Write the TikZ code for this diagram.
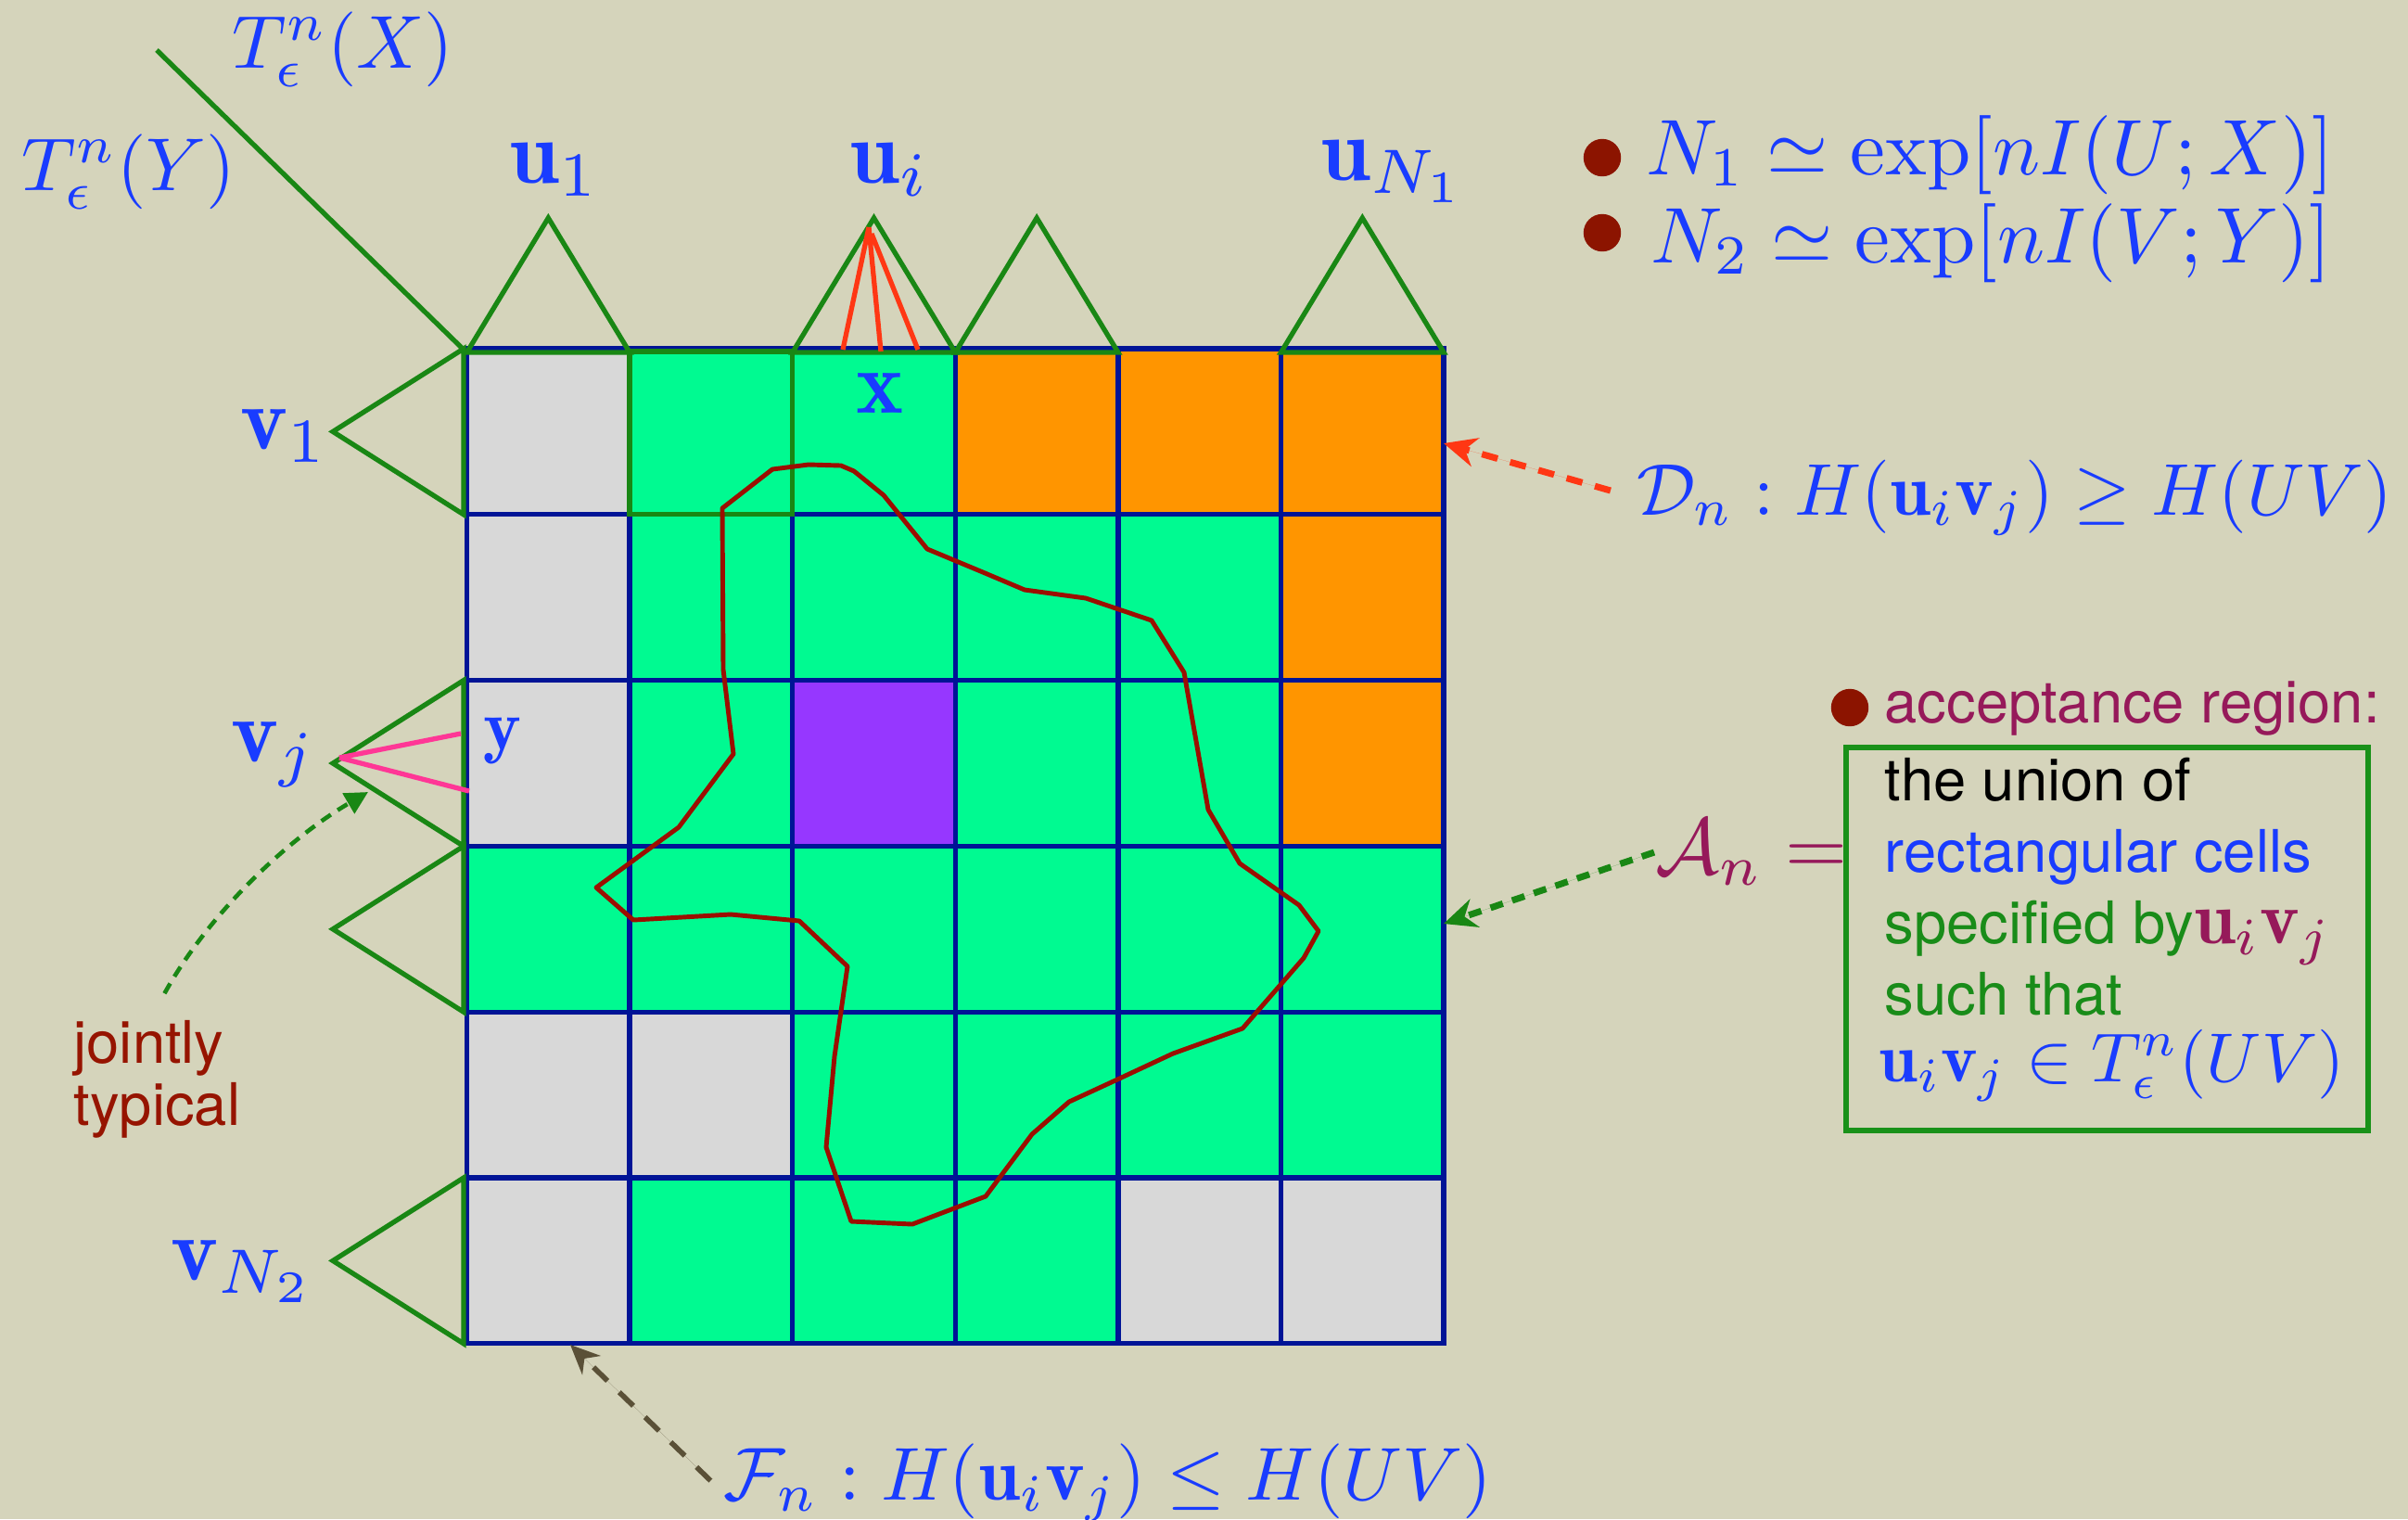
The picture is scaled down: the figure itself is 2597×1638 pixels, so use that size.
\documentclass[tikz,border=0pt]{standalone}
\usepackage{amsmath,amssymb}
\usepackage{graphicx}
\usepackage{fontspec}
\newfontfamily\hel{TeX Gyre Heros}
\usetikzlibrary{arrows.meta}
\definecolor{bg}{RGB}{213,212,187}
\definecolor{cgreen}{RGB}{0,250,145}
\definecolor{cgrey}{RGB}{216,216,216}
\definecolor{corange}{RGB}{255,149,0}
\definecolor{cpurple}{RGB}{150,55,255}
\definecolor{gridblue}{RGB}{0,20,150}
\definecolor{trigreen}{RGB}{25,135,20}
\definecolor{lblue}{RGB}{25,60,255}
\definecolor{curvered}{RGB}{155,15,0}
\definecolor{bulred}{RGB}{140,20,0}
\definecolor{maroon}{RGB}{150,25,90}
\definecolor{boxgreen}{RGB}{25,145,25}
\definecolor{tgreen}{RGB}{25,140,25}
\definecolor{xred}{RGB}{255,55,20}
\definecolor{pinkl}{RGB}{255,55,150}
\definecolor{folive}{RGB}{90,80,55}
\definecolor{jred}{RGB}{150,20,0}
\newcommand{\fsB}{\fontsize{18}{22}\selectfont}
\begin{document}
\begin{tikzpicture}[x=0.01cm,y=-0.01cm,
  lab/.style={inner sep=0pt,anchor=base west,text=lblue},
  gridline/.style={draw=gridblue,line width=1.5pt},
  tri/.style={draw=trigreen,line width=1.5pt,line join=miter},
  bul/.style={circle,fill=bulred,inner sep=0pt,minimum size=11.5pt},
  darrow/.style={line width=2pt,dash pattern=on 5pt off 4pt,-{Stealth[length=10pt,width=9pt]}}]
\useasboundingbox (0,0) rectangle (2597,1638);
\fill[bg] (0,0) rectangle (2597,1638);
\def\gx{503.5}\def\gy{376}\def\cw{175.6}\def\ch{178.8}
% cells
\fill[cgreen] (\gx,\gy) rectangle ++({6*\cw},{6*\ch});
\foreach \c/\r/\k in {1/1/cgrey,4/1/corange,5/1/corange,6/1/corange,
  1/2/cgrey,6/2/corange,1/3/cgrey,3/3/cpurple,6/3/corange,
  1/5/cgrey,2/5/cgrey,1/6/cgrey,5/6/cgrey,6/6/cgrey}
  \fill[\k] ({\gx+(\c-1)*\cw},{\gy+(\r-1)*\ch}) rectangle ++(\cw,\ch);
\foreach \i in {0,...,6} {
  \draw[gridline] ({\gx+\i*\cw},\gy) -- ++(0,{6*\ch});
  \draw[gridline] (\gx,{\gy+\i*\ch}) -- ++({6*\cw},0);
}
\draw[gridline,line join=miter] (\gx,\gy) rectangle ++({6*\cw},{6*\ch});
% green cell outline
\draw[tri] ({\gx+\cw},{\gy+3}) rectangle ++(\cw,{\ch-3});
% triangles
\foreach \c in {1,3,4,6}
  \draw[tri] ({\gx+(\c-1)*\cw},380) -- ({\gx+(\c-0.5)*\cw},235) -- ({\gx+\c*\cw},380) -- cycle;
\foreach \r in {1,3,4,6}
  \draw[tri] (500,{\gy+(\r-1)*\ch}) -- (359,{\gy+(\r-0.5)*\ch}) -- (500,{\gy+\r*\ch}) -- cycle;
\draw[tri] (169,54) -- (500,377);
% red and pink rays
\draw[xred,line width=1.5pt] (937,245) -- (909,377) (937,245) -- (950,379) (940,252) -- (990,377);
\draw[pinkl,line width=1.5pt] (366,817) -- (497,791) (366,817) -- (506,853);
% closed curve
\draw[curvered,line width=1.4pt,line join=round]
 (779,548) -- (833,506) -- (872,501) -- (907,502) -- (921,508) -- (953,534) -- (1000,592)
 -- (1060,617) -- (1105,636) -- (1171,645) -- (1242,669) -- (1277,725) -- (1303,873)
 -- (1337,931) -- (1401,976) -- (1422,1004) -- (1406,1033) -- (1340,1109) -- (1265,1136)
 -- (1205,1164) -- (1153,1188) -- (1113,1223) -- (1063,1290) -- (984,1320) -- (918,1317)
 -- (891,1237) -- (900,1139) -- (914,1042) -- (862,993) -- (788,986) -- (683,992)
 -- (643,957) -- (732,892) -- (791,813) -- (780,722) -- cycle;
% labels
\node[lab,scale=2.3] (TX) at (249,73) {$T_\epsilon^n(X)$};
\node[lab,scale=2.3] (TY) at (22,205) {$T_\epsilon^n(Y)$};
\node[lab,scale=2.75] (u1) at (548,197) {$\mathbf{u}_1$};
\node[lab,scale=2.75] (ui) at (915,197) {$\mathbf{u}_i$};
\node[lab,scale=2.75] (uN) at (1423,194) {$\mathbf{u}_{N_1}$};
\node[lab,scale=2.75] (v1) at (258,484) {$\mathbf{v}_1$};
\node[lab,scale=2.75] (vj) at (248,821) {$\mathbf{v}_j$};
\node[lab,scale=2.75] (vN) at (183,1380) {$\mathbf{v}_{N_2}$};
\node[lab,scale=2.75] (xl) at (922,445) {$\mathbf{x}$};
\node[lab,scale=2.2] (yl) at (520,808) {$\mathbf{y}$};
% formulas top right
\node[bul] (b1) at (1728,170) {};
\node[bul] (b2) at (1728,251) {};
\node[lab,scale=2.42] (N1) at (1774,188) {$N_1 \simeq \exp[nI(U;X)]$};
\node[lab,scale=2.42] (N2) at (1779,283) {$N_2 \simeq \exp[nI(V;Y)]$};
\node[lab,scale=2.25] (Dn) at (1764,555) {$\mathcal{D}_n : H(\mathbf{u}_i\mathbf{v}_j) \geq H(UV)$};
\node[lab,scale=2.3] (Fn) at (779,1617) {$\mathcal{F}_n : H(\mathbf{u}_i\mathbf{v}_j) \leq H(UV)$};
\node[lab,scale=2.45,text=maroon] (An) at (1784,942) {$\mathcal{A}_n =$};
% acceptance region
\node[bul] (b3) at (1995,763) {};
\node[lab,font=\fsB\hel,text=maroon] (acc) at (2032,779) {acceptance region:};
\draw[boxgreen,line width=1.8pt] (1991,806) rectangle (2554,1219);
\node[lab,font=\fsB\hel,text=black] (t1) at (2032,863) {the union of};
\node[lab,font=\fsB\hel,text=lblue] (t2) at (2032,940) {rectangular cells};
\node[lab,font=\fsB\hel,text=tgreen] (t3) at (2032,1017) {specified by{\color{maroon}\scalebox{2.3}{\normalsize$\mathbf{u}_i\mathbf{v}_j$}}};
\node[lab,font=\fsB\hel,text=tgreen] (t4) at (2032,1094) {such that};
\node[lab,scale=2.13,text=lblue] (t5) at (2025,1166) {$\mathbf{u}_i\mathbf{v}_j \in T_\epsilon^n(UV)$};
% jointly typical
\node[lab,font=\fsB\hel,text=jred] (jt1) at (79,1146) {jointly};
\node[lab,font=\fsB\hel,text=jred] (jt2) at (79,1213) {typical};
% arrow tips
\coordinate (dtip) at (1557,478);
\coordinate (atip) at (1557,996);
\coordinate (ftip) at (615,1450);
\coordinate (jtip) at (397,854);
\draw[darrow,draw=xred,fill=xred,shorten <=8pt] (Dn.west) -- (dtip);
\draw[darrow,draw=trigreen,fill=trigreen,dash pattern=on 4pt off 3pt] (An.west) -- (atip);
\draw[line width=1.6pt,draw=folive,fill=folive,dash pattern=on 6pt off 5pt,shorten <=5pt,-{Stealth[length=9pt,width=8pt]}] ([yshift=-3pt]Fn.west) -- (ftip);
\draw[line width=1.3pt,draw=trigreen,dash pattern=on 3.5pt off 2.5pt,-{Triangle[length=7pt,width=7pt,fill=trigreen]}]
  ([shift={(17,-28)}]jt1.north) .. controls (225,985) and (310,905) .. (jtip);
\end{tikzpicture}
\end{document}
